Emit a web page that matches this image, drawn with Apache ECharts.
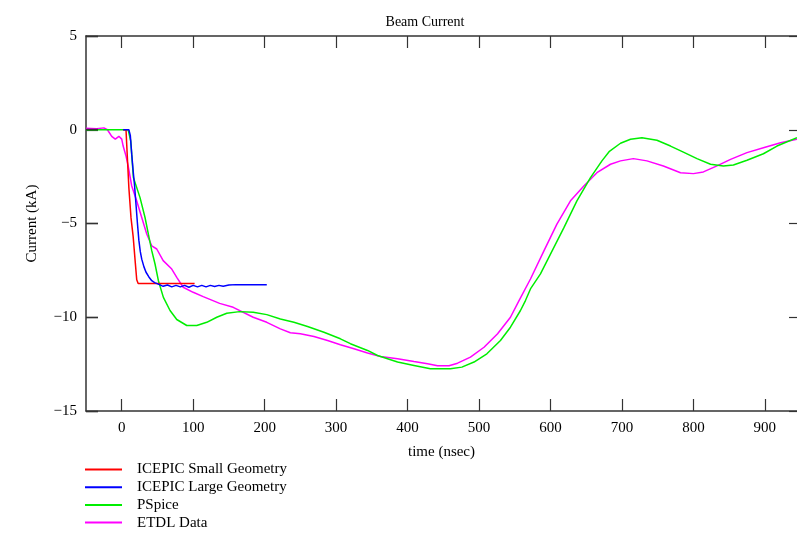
<!DOCTYPE html>
<html>
<head>
<meta charset="utf-8">
<script src="https://cdn.jsdelivr.net/npm/echarts@6/dist/echarts.min.js"></script>
<style>html,body{margin:0;padding:0;background:#fff;}#c{width:797px;height:547px;}</style>
</head>
<body>
<div id="c"></div>
<script>
// ---- data ----
var seriesNames = ['ICEPIC Small Geometry', 'ICEPIC Large Geometry', 'PSpice', 'ETDL Data'];
var xTicks = [0, 100, 200, 300, 400, 500, 600, 700, 800, 900];
var yTicks = [-15, -10, -5, 0, 5];

var redT = [2, 6, 7, 9, 10, 12, 13, 15, 16, 18, 19, 21, 23, 102];
var redI = [0, 0, -0.8, -0.8, -3.1, -3.1, -4.7, -4.7, -5.7, -5.7, -7.1, -8.0, -8.2, -8.2];

var blueT = [2, 10, 12, 14, 16, 18, 20, 22, 24, 26, 28, 31, 34, 38, 42, 46, 52, 58, 64, 70, 76, 82, 88, 94, 100, 106, 112, 118, 124, 130, 136, 142, 150, 160, 203];
var blueI = [0, 0, -0.3, -1.3, -2.2, -3.0, -4.0, -5.0, -5.9, -6.5, -6.9, -7.3, -7.6, -7.85, -8.05, -8.15, -8.25, -8.35, -8.28, -8.38, -8.3, -8.38, -8.3, -8.4, -8.3, -8.38, -8.3, -8.38, -8.3, -8.36, -8.3, -8.35, -8.28, -8.26, -8.26];

var greenT = [-50, 9, 12.6, 16.3, 25.6, 32.6, 37.3, 42, 46.6, 51.3, 58.3, 67.6, 77, 91, 105, 119, 133, 147, 165, 184, 203, 222, 241, 260, 283, 306, 320, 344, 358, 386, 409, 432, 460, 476, 493, 511, 530, 544, 558, 565, 572, 586, 600, 619, 637, 656, 672, 682, 698, 712, 728, 749, 768, 786, 805, 824, 842, 856, 875, 898, 917, 945];
var greenI = [0, 0, -0.6, -2.55, -3.62, -4.68, -5.57, -6.45, -7.16, -8.05, -8.94, -9.64, -10.12, -10.44, -10.44, -10.27, -10.0, -9.79, -9.70, -9.73, -9.86, -10.09, -10.27, -10.49, -10.8, -11.15, -11.41, -11.77, -12.04, -12.39, -12.57, -12.75, -12.75, -12.66, -12.39, -11.95, -11.24, -10.53, -9.64, -9.11, -8.49, -7.69, -6.63, -5.21, -3.79, -2.55, -1.66, -1.17, -0.72, -0.51, -0.43, -0.56, -0.87, -1.19, -1.54, -1.84, -1.93, -1.88, -1.63, -1.28, -0.87, -0.43];

var magT = [-50, -35, -25, -20, -14, -9, -4, 0, 2, 6, 9, 14, 21, 28, 35, 42, 49, 58, 70, 77, 86, 100, 114, 137, 156, 184, 203, 222, 236, 250, 269, 288, 306, 325, 344, 362, 386, 409, 428, 442, 458, 470, 488, 507, 526, 544, 556, 572, 591, 609, 628, 647, 665, 684, 698, 716, 735, 758, 782, 800, 814, 833, 852, 875, 898, 922, 945];
var magI = [0.08, 0.05, 0.1, 0.0, -0.35, -0.5, -0.35, -0.5, -0.87, -1.4, -1.93, -3.0, -3.8, -4.68, -5.56, -6.19, -6.36, -6.98, -7.43, -7.87, -8.40, -8.67, -8.9, -9.26, -9.47, -10.0, -10.27, -10.62, -10.83, -10.88, -11.03, -11.24, -11.47, -11.68, -11.91, -12.09, -12.21, -12.36, -12.48, -12.59, -12.59, -12.45, -12.13, -11.6, -10.88, -10.0, -9.11, -7.96, -6.45, -5.03, -3.79, -2.99, -2.29, -1.84, -1.66, -1.54, -1.66, -1.93, -2.29, -2.34, -2.25, -1.93, -1.58, -1.22, -0.96, -0.69, -0.51];

function pairs(t, v) { return t.map(function (x, i) { return [x, v[i]]; }); }

var FONT = 'Liberation Serif';
var axisColor = '#333';
var X_MIN = -50, X_MAX = 945;
function fmtY(v) { return v < 0 ? '\u2212' + Math.abs(v) : String(v); }

function xAxisCfg(pos, showLabels) {
  return {
    type: 'value', min: X_MIN, max: X_MAX, position: pos,
    name: showLabels ? 'time (nsec)' : '', nameLocation: 'middle', nameGap: 34,
    nameTextStyle: { fontFamily: FONT, fontSize: 15, color: '#000', align: 'center' },
    axisLine: { show: true, onZero: false, lineStyle: { color: axisColor, width: 1.5 } },
    axisTick: { show: true, inside: true, length: 12, customValues: xTicks, lineStyle: { color: axisColor, width: 1.2 } },
    axisLabel: { show: showLabels, customValues: xTicks, margin: 10, fontFamily: FONT, fontSize: 15, color: '#000' },
    splitLine: { show: false }
  };
}
function yAxisCfg(pos, showLabels, showLine, tickLen) {
  return {
    type: 'value', min: -15, max: 5, interval: 5, position: pos,
    name: showLabels ? 'Current (kA)' : '', nameLocation: 'middle', nameGap: 46, nameRotate: 90,
    nameTextStyle: { fontFamily: FONT, fontSize: 15, color: '#000' },
    axisLine: { show: showLine, onZero: false, lineStyle: { color: axisColor, width: 1.5 } },
    axisTick: { show: tickLen > 0, inside: true, length: tickLen, lineStyle: { color: axisColor, width: 1.2 } },
    axisLabel: { show: showLabels, margin: 9, fontFamily: FONT, fontSize: 15, color: '#000', formatter: fmtY },
    splitLine: { show: false }
  };
}

var chart = echarts.init(document.getElementById('c'), null, { renderer: 'canvas' });
var colors = ['#ff0000', '#0000ff', '#00ee00', '#ff00ff'];
var datas = [pairs(redT, redI), pairs(blueT, blueI), pairs(greenT, greenI), pairs(magT, magI)];

chart.setOption({
  animation: false,
  backgroundColor: '#fff',
  title: {
    text: 'Beam Current', left: 420, top: 10, textAlign: 'center',
    textStyle: { fontFamily: FONT, fontSize: 14, fontWeight: 'normal', color: '#000' }
  },
  grid: { left: 86, right: 0, top: 36, bottom: 136, containLabel: false },
  legend: {
    orient: 'vertical', left: 80, top: 457, itemWidth: 37, itemHeight: 2, itemGap: 2.7,
    icon: 'rect',
    data: seriesNames,
    textStyle: { fontFamily: FONT, fontSize: 15, color: '#000', padding: [0, 0, 0, 10], lineHeight: 15 }
  },
  xAxis: [xAxisCfg('bottom', true), xAxisCfg('top', false)],
  yAxis: [yAxisCfg('left', true, true, 12), yAxisCfg('right', false, false, 8)],
  series: seriesNames.map(function (n, i) {
    return {
      name: n, type: 'line', data: datas[i], xAxisIndex: 0, yAxisIndex: 0,
      showSymbol: false, symbol: 'none', clip: true,
      lineStyle: { color: colors[i], width: 1.5 }, itemStyle: { color: colors[i] },
      z: i === 3 ? 3 : (i === 2 ? 4 : 5)
    };
  })
});

// left-axis inward ticks, positioned through the chart's own scales
var tickEls = yTicks.map(function (v) {
  var p = chart.convertToPixel({ xAxisIndex: 0, yAxisIndex: 0 }, [X_MIN, v]);
  var y = Math.floor(p[1]) + 0.5;
  return {
    type: 'line', z: 10, silent: true,
    shape: { x1: p[0], y1: y, x2: p[0] + 12, y2: y },
    style: { stroke: axisColor, lineWidth: 1.5 }
  };
});
chart.setOption({ graphic: { elements: tickEls } });
</script>
</body>
</html>
